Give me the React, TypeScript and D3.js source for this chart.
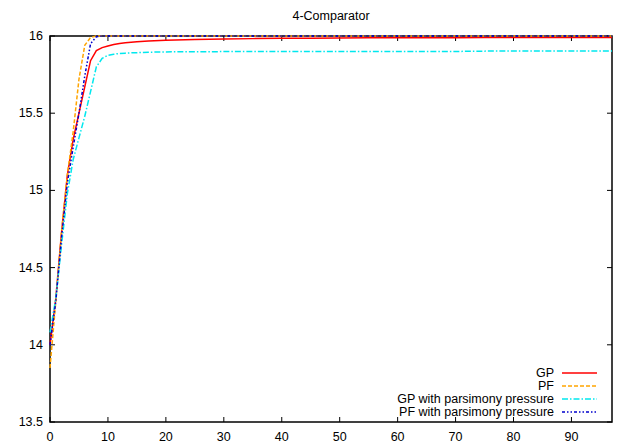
import React from "react";
import * as d3 from "d3";

// Generations sampled for each run (best fitness recorded at these generations)
const generations = [0, 1, 2, 3, 4, 5, 6, 7, 8, 9, 10, 11, 12, 13, 14, 15, 17, 20, 25, 30, 35, 40, 45, 50, 55, 60, 65, 70, 75, 80, 85, 90, 95, 97];

const gpValues = [14.0, 14.3, 14.73, 15.1, 15.33, 15.5, 15.67, 15.84, 15.905, 15.925, 15.935, 15.945, 15.952, 15.956, 15.96, 15.963, 15.967, 15.972, 15.977, 15.981, 15.983, 15.985, 15.986, 15.987, 15.988, 15.988, 15.989, 15.989, 15.99, 15.99, 15.99, 15.99, 15.991, 15.991];
const pfValues = [13.85, 14.28, 14.74, 15.1, 15.38, 15.72, 15.94, 15.99, 16.0, 16.0, 16.0, 16.0, 16.0, 16.0, 16.0, 16.0, 16.0, 16.0, 16.0, 16.0, 16.0, 16.0, 16.0, 16.0, 16.0, 16.0, 16.0, 16.0, 16.0, 16.0, 16.0, 16.0, 16.0, 16.0];
const gpParsValues = [14.08, 14.3, 14.65, 14.98, 15.2, 15.34, 15.48, 15.64, 15.8, 15.855, 15.875, 15.882, 15.887, 15.889, 15.891, 15.892, 15.895, 15.897, 15.898, 15.899, 15.899, 15.9, 15.9, 15.9, 15.9, 15.9, 15.9, 15.9, 15.902, 15.903, 15.903, 15.903, 15.903, 15.903];
const pfParsValues = [14.0, 14.28, 14.7, 15.05, 15.28, 15.5, 15.74, 15.95, 15.995, 16.0, 16.0, 16.0, 16.0, 16.0, 16.0, 16.0, 16.0, 16.0, 16.0, 16.0, 16.0, 16.0, 16.0, 16.0, 16.0, 16.0, 16.0, 16.0, 16.0, 16.0, 16.0, 16.0, 16.0, 16.0];

const seriesNames = ["GP", "PF", "GP with parsimony pressure", "PF with parsimony pressure"];
const seriesValues = [gpValues, pfValues, gpParsValues, pfParsValues];
const seriesColors = ["#ff0000", "#ffa500", "#00e8ee", "#0000cc"];
const seriesDash = ["", "4,2", "6,2,1.5,2", "3,2,1.5,2,1.5,2"];

const xTicks = [0, 10, 20, 30, 40, 50, 60, 70, 80, 90];
const yTicks = [13.5, 14, 14.5, 15, 15.5, 16];

const W = 623;
const H = 444;
const left = 50;
const right = 612;
const top = 36;
const bottom = 422;
const FONT = "'Liberation Sans', Arial, Helvetica, sans-serif";

export default function App() {
  const x = d3.scaleLinear().domain([0, 97]).range([left, right]);
  const y = d3.scaleLinear().domain([13.5, 16]).range([bottom, top]);
  const line = d3
    .line<number>()
    .x((_, i) => x(generations[i]))
    .y((v) => y(v));

  const tickLen = 5;
  const legendRight = 554;
  const legendY0 = 373;
  const legendStep = 13;

  return (
    <svg
      width={W}
      height={H}
      style={{ position: "fixed", left: 0, top: 0, background: "#fff" }}
      fontFamily={FONT}
      fontSize={12.5}
    >
      <rect x={0} y={0} width={W} height={H} fill="#fff" />
      <text x={(left + right) / 2} y={20} textAnchor="middle" fill="#000">
        4-Comparator
      </text>

      {/* frame */}
      <rect x={left} y={top} width={right - left} height={bottom - top} fill="none" stroke="#000" strokeWidth={1.5} />

      {/* x ticks, mirrored on the top edge */}
      {xTicks.map((t) => (
        <g key={"x" + t}>
          <line x1={x(t)} x2={x(t)} y1={bottom} y2={bottom - tickLen} stroke="#000" strokeWidth={1} />
          <line x1={x(t)} x2={x(t)} y1={top} y2={top + tickLen} stroke="#000" strokeWidth={1} />
          <text x={x(t)} y={bottom + 19} textAnchor="middle" fill="#000">
            {t}
          </text>
        </g>
      ))}

      {/* y ticks, mirrored on the right edge */}
      {yTicks.map((t) => (
        <g key={"y" + t}>
          <line x1={left} x2={left + tickLen} y1={y(t)} y2={y(t)} stroke="#000" strokeWidth={1} />
          <line x1={right} x2={right - tickLen} y1={y(t)} y2={y(t)} stroke="#000" strokeWidth={1} />
          <text x={left - 7} y={y(t) + 4} textAnchor="end" fill="#000">
            {d3.format("")(t)}
          </text>
        </g>
      ))}

      {/* series */}
      {seriesValues.map((vals, i) => (
        <path
          key={"s" + i}
          d={line(vals) || ""}
          fill="none"
          stroke={seriesColors[i]}
          strokeWidth={1.5}
          strokeDasharray={seriesDash[i] || undefined}
        />
      ))}

      {/* legend */}
      {seriesNames.map((name, i) => {
        const ly = legendY0 + i * legendStep;
        return (
          <g key={"l" + i}>
            <text x={legendRight} y={ly + 4} textAnchor="end" fill="#000">
              {name}
            </text>
            <line
              x1={562}
              x2={597}
              y1={ly}
              y2={ly}
              stroke={seriesColors[i]}
              strokeWidth={1.5}
              strokeDasharray={seriesDash[i] || undefined}
            />
          </g>
        );
      })}
    </svg>
  );
}
